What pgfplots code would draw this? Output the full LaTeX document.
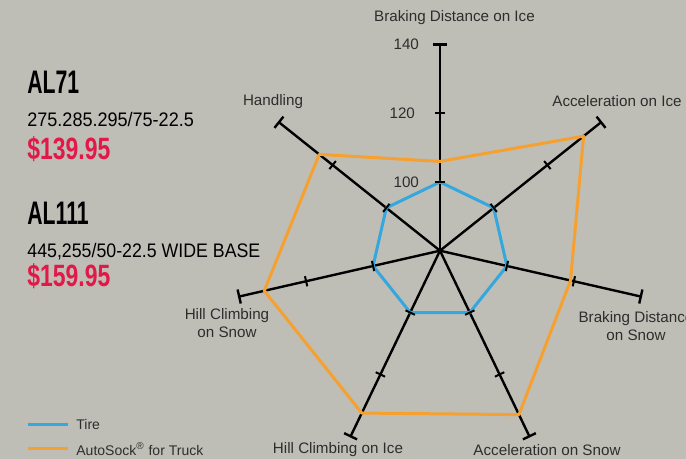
\documentclass[border=0pt]{standalone}
\usepackage{fontspec}
\setmainfont{Liberation Sans}
\usepackage{graphicx}
\usepackage{pgfplots}
\pgfplotsset{compat=1.18}
\usepgfplotslibrary{polar}
\definecolor{bg}{RGB}{191,190,182}
\definecolor{tireblue}{RGB}{52,168,222}
\definecolor{sockorange}{RGB}{246,160,48}
\definecolor{pricered}{RGB}{226,24,72}
\definecolor{lbl}{RGB}{45,45,45}
\newcommand{\spoke}[1]{%
 \addplot[black, line width=1.2pt, forget plot] coordinates {(#1,80) (#1,140)};
 \addplot[only marks, forget plot, mark=|, mark size=3.6pt, mark options={rotate=#1, line width=1.2pt, black}] coordinates {(#1,140)};
 \addplot[only marks, forget plot, mark=|, mark size=2.6pt, mark options={rotate=#1, line width=1pt, black}] coordinates {(#1,100) (#1,120)};
}
\begin{document}
\begin{tikzpicture}
\fill[bg] (0,0) rectangle (343pt,229.5pt);
\useasboundingbox (0,0) rectangle (343pt,229.5pt);
\begin{polaraxis}[at={(220pt,104.15pt)}, anchor=center, scale only axis,
  width=206pt, height=206pt, xmin=0, xmax=360, ymin=0, ymax=60,
  hide axis, clip=false, y filter/.expression={y-80}]
\spoke{90}
\spoke{38.571}
\spoke{-12.857}
\spoke{-64.286}
\spoke{-115.714}
\spoke{-167.143}
\spoke{141.429}
\addplot[tireblue, line width=1.5pt, line join=round] coordinates {
 (90,100) (38.571,100) (-12.857,100) (-64.286,100) (-115.714,100) (-167.143,100) (141.429,100) (90,100)};
\addplot[sockorange, line width=1.5pt, line join=round] coordinates {
 (90,106) (38.571,133.5) (-12.857,119) (-64.286,133) (-115.714,132.5) (-167.143,132.5) (141.429,125) (90,106)};
\end{polaraxis}
% axis labels
\begin{scope}[every node/.style={font=\fontsize{7.6}{9}\selectfont, text=lbl, align=center}]
\node at (227.25pt,220.5pt) {Braking Distance on Ice};
\node at (308.5pt,179pt) {Acceleration on Ice};
\node at (318pt,66.25pt) {Braking Distance\\on Snow};
\node at (273.5pt,4.5pt) {Acceleration on Snow};
\node at (169pt,4.5pt) {Hill Climbing on Ice};
\node at (113.5pt,67.75pt) {Hill Climbing\\on Snow};
\node at (136.5pt,178.5pt) {Handling};
\node[anchor=east] at (213pt,207.5pt) {140};
\node[anchor=east] at (211pt,173pt) {120};
\node[anchor=east] at (213pt,138.5pt) {100};
\end{scope}
% product text
\node[anchor=base west, inner sep=0pt] at (13.5pt,182.5pt) {\fontsize{16.3}{18}\selectfont\bfseries\scalebox{0.65}[1]{AL71}};
\node[anchor=base west, inner sep=0pt] at (13.5pt,166pt) {\fontsize{9.8}{11}\selectfont\scalebox{0.92}[1]{275.285.295/75-22.5}};
\node[anchor=base west, inner sep=0pt, text=pricered] at (13.5pt,149.5pt) {\fontsize{15.4}{17}\selectfont\bfseries\scalebox{0.745}[1]{\$139.95}};
\node[anchor=base west, inner sep=0pt] at (13.5pt,117pt) {\fontsize{16.3}{18}\selectfont\bfseries\scalebox{0.65}[1]{AL111}};
\node[anchor=base west, inner sep=0pt] at (13.5pt,100.5pt) {\fontsize{9.8}{11}\selectfont\scalebox{0.906}[1]{445,255/50-22.5 WIDE BASE}};
\node[anchor=base west, inner sep=0pt, text=pricered] at (13.5pt,86pt) {\fontsize{15.4}{17}\selectfont\bfseries\scalebox{0.745}[1]{\$159.95}};
% legend
\draw[tireblue, line width=1.5pt] (14pt,17pt) -- (34pt,17pt);
\draw[sockorange, line width=1.5pt] (14pt,5pt) -- (34pt,5pt);
\node[anchor=west, inner sep=0pt, font=\fontsize{7}{8}\selectfont, text=lbl] at (38pt,17pt) {Tire};
\node[anchor=west, inner sep=0pt, font=\fontsize{7}{8}\selectfont, text=lbl] at (38pt,5pt) {AutoSock\textsuperscript{®} for Truck};
\end{tikzpicture}
\end{document}
